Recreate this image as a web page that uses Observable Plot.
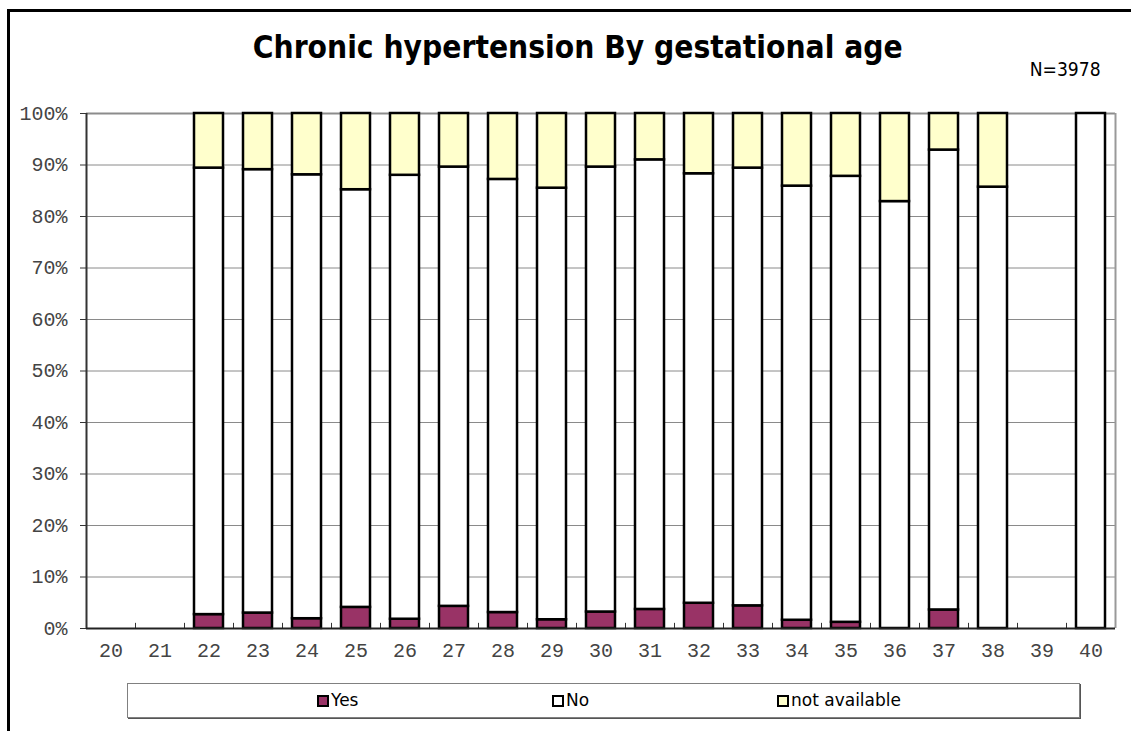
<!DOCTYPE html>
<html>
<head>
<meta charset="utf-8">
<script src="https://cdn.jsdelivr.net/npm/d3@7"></script>
<script src="https://cdn.jsdelivr.net/npm/@observablehq/plot@0.6"></script>
<style>
  body { margin: 0; background: #fff; }
  #wrap { position: relative; width: 1131px; height: 731px; overflow: hidden; background: #fff; font-family: "DejaVu Sans", sans-serif; }
  #border { position: absolute; left: 7px; top: 9px; width: 1140px; height: 740px; border-top: 3px solid #000; border-left: 3px solid #000; }
  #chart { position: absolute; left: 0; top: 0; }
  .txt { position: absolute; white-space: nowrap; line-height: 1; color: #000; }
  #title { font-weight: bold; font-size: 32px; transform-origin: center top; }
  #nlabel { font-size: 20px; transform-origin: right top; }
  #legend { position: absolute; left: 127px; top: 683px; width: 951px; height: 33px; border: 1px solid #808080; box-shadow: 1px 1px 0 #555; background: #fff; }
  .item { position: absolute; top: 0; height: 33px; }
  .sw { position: absolute; top: 11px; width: 8px; height: 8px; border: 2px solid #000; }
  .lt { position: absolute; left: 14px; top: 8px; font-size: 17px; line-height: 1; white-space: nowrap; color: #000; }
</style>
</head>
<body>
<div id="wrap">
  <div id="border"></div>
  <div id="chart"></div>
  <div id="title" class="txt">Chronic hypertension By gestational age</div>
  <div id="nlabel" class="txt">N=3978</div>
  <div id="legend"></div>
</div>
<script>
// ---- data (percent of births in each gestational week) ----
const categories = [20, 21, 22, 23, 24, 25, 26, 27, 28, 29, 30, 31, 32, 33, 34, 35, 36, 37, 38, 39, 40];
const yesPct = [null, null, 2.7, 3.0, 1.9, 4.1, 1.8, 4.3, 3.1, 1.7, 3.2, 3.7, 4.9, 4.4, 1.6, 1.2, 0, 3.6, 0, null, 0];
const noPct  = [null, null, 86.7, 86.1, 86.2, 81.1, 86.2, 85.3, 84.1, 83.8, 86.4, 87.3, 83.4, 85.0, 84.3, 86.6, 82.9, 89.3, 85.7, null, 100];
const naPct  = [null, null, 10.6, 10.9, 11.9, 14.8, 12.0, 10.4, 12.8, 14.5, 10.4, 9.0, 11.7, 10.6, 14.1, 12.2, 17.1, 7.1, 14.3, null, 0];
const seriesNames = ["Yes", "No", "not available"];
const seriesColors = ["#993366", "#ffffff", "#ffffcc"];
const yTicks = [0, 10, 20, 30, 40, 50, 60, 70, 80, 90, 100];
const titleText = "Chronic hypertension By gestational age";
const nText = "N=3978";

// ---- table for Plot ----
const rows = [];
categories.forEach((c, i) => {
  [yesPct, noPct, naPct].forEach((arr, j) => {
    if (arr[i] != null) rows.push({ ga: String(c), series: seriesNames[j], value: arr[i] });
  });
});

const W = 1131, H = 731, mL = 86, mR = 16, mT = 113, mB = 103;
const step = (W - mL - mR) / categories.length;
const cats = categories.map(String);

const chart = Plot.plot({
  width: W, height: H,
  marginLeft: mL, marginRight: mR, marginTop: mT, marginBottom: mB,
  style: { fontFamily: "'Liberation Mono', 'DejaVu Sans Mono', monospace", fontSize: "20px", color: "#444", background: "transparent" },
  x: { type: "band", domain: cats, paddingInner: 0.4, paddingOuter: 0.2, label: null },
  y: { domain: [0, 100], label: null },
  color: { domain: seriesNames, range: seriesColors },
  marks: [
    Plot.ruleY(yTicks.filter(t => t > 0 && t < 100), { stroke: "#8a8a8a", strokeWidth: 1 }),
    Plot.ruleY([100], { stroke: "#8c8c8c", strokeWidth: 2 }),
    Plot.ruleX([cats[cats.length - 1]], { dx: step / 2, stroke: "#999", strokeWidth: 2 }),
    Plot.ruleX(cats, { y1: 0, y2: 1, dx: -step / 2, stroke: "#333", strokeWidth: 1 }),
    Plot.barY(rows, { x: "ga", y: "value", fill: "series", stroke: "#000", strokeWidth: 2.5 }),
    Plot.ruleX([cats[0]], { dx: -step / 2, stroke: "#333", strokeWidth: 2 }),
    Plot.ruleY([0], { stroke: "#222", strokeWidth: 2 }),
    Plot.axisY({ ticks: yTicks, tickFormat: d => d + "%", tickSize: 6, tickPadding: 13, stroke: "#333" }),
    Plot.axisX({ tickSize: 0, tickPadding: 14 })
  ]
});
document.getElementById("chart").appendChild(chart);

// ---- title and N label ----
function place(el, text, F, baseline) {
  el.textContent = text;
  el.style.top = (baseline - 0.846 * F) + "px";
}
const title = document.getElementById("title");
place(title, titleText, 32, 58);
const tw = title.getBoundingClientRect().width;
title.style.left = (578 - tw / 2) + "px";
title.style.transform = `scaleX(${650 / tw})`;

const nl = document.getElementById("nlabel");
place(nl, nText, 20, 76);
const nw = nl.getBoundingClientRect().width;
nl.style.right = (1131 - 1101) + "px";
nl.style.transform = `scaleX(${71 / nw})`;

// ---- legend ----
const legend = document.getElementById("legend");
const legendX = [189, 424, 649];
seriesNames.forEach((s, i) => {
  const it = document.createElement("div");
  it.className = "item";
  it.style.left = legendX[i] + "px";
  const sw = document.createElement("div");
  sw.className = "sw";
  sw.style.background = seriesColors[i];
  const lt = document.createElement("div");
  lt.className = "lt";
  lt.textContent = s;
  it.appendChild(sw);
  it.appendChild(lt);
  legend.appendChild(it);
});
</script>
</body>
</html>
